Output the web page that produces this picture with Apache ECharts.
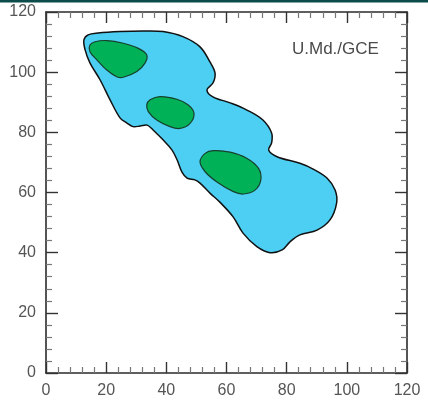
<!DOCTYPE html>
<html>
<head>
<meta charset="utf-8">
<script src="https://cdn.jsdelivr.net/npm/echarts@6/dist/echarts.min.js"></script>
<style>
  html, body { margin: 0; padding: 0; background: #ffffff; }
  #chart { width: 428px; height: 401px; }
</style>
</head>
<body>
<div id="chart"></div>
<script>
// Axis ticks (shared by both axes)
const tickValues = [0, 20, 40, 60, 80, 100, 120];

// Outer envelope of the region (x, y)
const outerRegion = [
  [12.6, 110.7], [14.0, 112.4], [17.3, 113.0], [24.6, 113.5], [32.3, 113.7],
  [38.9, 113.5], [45.5, 111.8], [51.2, 108.4], [54.5, 103.4], [56.2, 99.7],
  [55.5, 96.4], [53.5, 94.1], [55.5, 91.8], [61.2, 89.8], [66.8, 87.4],
  [72.1, 84.1], [75.0, 79.8], [75.0, 76.5], [74.0, 74.1], [76.8, 71.9],
  [84.4, 69.7], [88.8, 67.8], [93.4, 64.8], [96.1, 60.8], [96.6, 56.5],
  [94.4, 50.9], [90.1, 47.5], [84.4, 45.9], [81.1, 43.6], [78.5, 40.9],
  [74.5, 40.0], [70.1, 42.0], [65.5, 46.5], [62.2, 51.9], [57.8, 56.8],
  [54.5, 59.8], [51.2, 63.1], [49.5, 64.2], [46.9, 64.8], [45.2, 66.8],
  [43.6, 70.8], [41.9, 74.1], [38.9, 77.5], [35.6, 80.8], [33.6, 82.4],
  [31.3, 82.1], [28.9, 81.9], [26.9, 83.1], [24.6, 84.8], [21.3, 90.8],
  [18.0, 97.4], [14.6, 103.1], [13.0, 107.4]
];

// Inner cores
const coreA = [
  [14.6, 109.0], [16.3, 110.1], [20.2, 110.5], [25.7, 109.6], [30.7, 107.9],
  [33.5, 105.7], [32.9, 103.0], [30.2, 100.2], [25.7, 98.3], [23.5, 98.5],
  [20.2, 100.7], [16.9, 104.1], [14.6, 106.8]
];
const coreB = [
  [33.5, 89.1], [34.6, 90.8], [37.9, 91.9], [43.5, 91.0], [47.3, 89.1],
  [49.2, 86.3], [47.9, 83.0], [44.5, 81.3], [41.2, 81.9], [36.8, 84.1],
  [34.0, 86.9]
];
const coreC = [
  [51.2, 70.2], [52.9, 73.0], [55.6, 73.9], [61.2, 73.4], [66.7, 71.4],
  [70.6, 68.1], [71.4, 64.2], [69.5, 60.8], [65.6, 59.5], [62.3, 60.3],
  [56.7, 63.6], [52.9, 66.9]
];

const labelText = 'U.Md./GCE';

// One closed, smoothed outline built from all points of the series
function blobSeries(points, fill, stroke, lineWidth, z) {
  return {
    type: 'custom',
    coordinateSystem: 'cartesian2d',
    xAxisIndex: 0,
    yAxisIndex: 0,
    z: z,
    silent: true,
    data: points,
    renderItem: function (params, api) {
      if (params.dataIndex !== 0) return null;
      const pts = points.map(function (p) { return api.coord(p); });
      return {
        type: 'polygon',
        shape: { points: pts, smooth: 0.35 },
        style: { fill: fill, stroke: stroke, lineWidth: lineWidth }
      };
    }
  };
}

const axisMin = tickValues[0];
const axisMax = tickValues[tickValues.length - 1];
const axisStep = tickValues[1] - tickValues[0];

function makeAxis(position, showLabels, isY) {
  return {
    type: 'value',
    position: position,
    min: axisMin,
    max: axisMax,
    interval: axisStep,
    splitLine: { show: false },
    axisLine: { show: true, onZero: false, lineStyle: { color: '#2a2a2a', width: 1.6 } },
    axisTick: { show: true, inside: true, length: isY ? 12 : 11, lineStyle: { color: '#333', width: 1.4 } },
    minorTick: { show: true, splitNumber: 5, length: 6, lineStyle: { color: '#777', width: 1.2 } },
    minorSplitLine: { show: false },
    axisLabel: {
      show: showLabels,
      color: '#555',
      fontFamily: 'Liberation Sans, Arial, sans-serif',
      fontSize: 16,
      margin: 10,
      showMinLabel: true,
      showMaxLabel: true
    }
  };
}

const chart = echarts.init(document.getElementById('chart'), null, { renderer: 'canvas' });

chart.setOption({
  animation: false,
  backgroundColor: '#ffffff',
  grid: { left: 46, right: 21, top: 12, bottom: 28, containLabel: false },
  xAxis: [makeAxis('bottom', true, false), makeAxis('top', false, false)],
  yAxis: [makeAxis('left', true, true), makeAxis('right', false, true)],
  graphic: [
    {
      type: 'rect',
      left: 0, top: 0,
      shape: { width: 428, height: 2.5 },
      style: { fill: '#0b4b49' },
      z: 100
    },
    {
      type: 'text',
      left: 292,
      top: 41,
      style: {
        text: labelText,
        fill: '#4a4a4a',
        font: '17px "Liberation Sans", Arial, sans-serif'
      },
      z: 100
    }
  ],
  series: [
    blobSeries(outerRegion, '#4dcff3', '#111111', 1.5, 2),
    blobSeries(coreA, '#00b158', '#17402a', 1.2, 3),
    blobSeries(coreB, '#00b158', '#17402a', 1.2, 3),
    blobSeries(coreC, '#00b158', '#17402a', 1.2, 3)
  ]
});
</script>
</body>
</html>
